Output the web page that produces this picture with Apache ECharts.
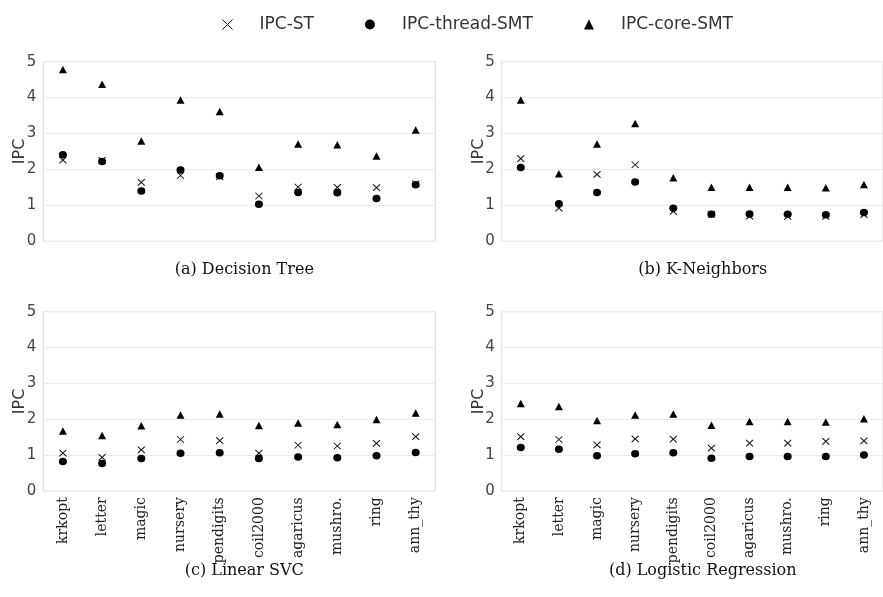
<!DOCTYPE html>
<html>
<head>
<meta charset="utf-8">
<script src="https://cdn.jsdelivr.net/npm/echarts@6/dist/echarts.min.js"></script>
<style>
  html, body { margin: 0; padding: 0; background: #fff; }
  #chart { width: 883px; height: 597px; }
</style>
</head>
<body>
<div id="chart"></div>
<script>
// Datasets on the x axis (shared by all four panels)
const categories = ['krkopt', 'letter', 'magic', 'nursery', 'pendigits', 'coil2000', 'agaricus', 'mushro.', 'ring', 'ann_thy'];
const seriesNames = ['IPC-ST', 'IPC-thread-SMT', 'IPC-core-SMT'];
const panelTitles = ['(a) Decision Tree', '(b) K-Neighbors', '(c) Linear SVC', '(d) Logistic Regression'];

// (a) Decision Tree
const dtST     = [2.26, 2.25, 1.64, 1.83, 1.80, 1.26, 1.51, 1.50, 1.49, 1.60];
const dtThread = [2.41, 2.22, 1.40, 1.98, 1.82, 1.03, 1.36, 1.35, 1.19, 1.57];
const dtCore   = [4.78, 4.37, 2.79, 3.93, 3.61, 2.06, 2.71, 2.69, 2.37, 3.10];

// (b) K-Neighbors
const knST     = [2.30, 0.92, 1.86, 2.13, 0.83, 0.75, 0.70, 0.69, 0.69, 0.74];
const knThread = [2.05, 1.04, 1.36, 1.65, 0.92, 0.75, 0.76, 0.75, 0.74, 0.80];
const knCore   = [3.93, 1.88, 2.71, 3.28, 1.77, 1.50, 1.50, 1.50, 1.49, 1.58];

// (c) Linear SVC
const svcST     = [1.06, 0.94, 1.15, 1.44, 1.41, 1.06, 1.28, 1.26, 1.33, 1.52];
const svcThread = [0.83, 0.77, 0.91, 1.06, 1.07, 0.91, 0.95, 0.93, 0.99, 1.08];
const svcCore   = [1.68, 1.55, 1.82, 2.12, 2.15, 1.83, 1.90, 1.86, 2.00, 2.18];

// (d) Logistic Regression
const lrST     = [1.52, 1.44, 1.29, 1.46, 1.45, 1.20, 1.34, 1.34, 1.39, 1.40];
const lrThread = [1.22, 1.17, 0.99, 1.04, 1.07, 0.92, 0.97, 0.97, 0.97, 1.01];
const lrCore   = [2.44, 2.36, 1.97, 2.12, 2.15, 1.84, 1.94, 1.94, 1.93, 2.02];

const panels = [
  [dtST, dtThread, dtCore],
  [knST, knThread, knCore],
  [svcST, svcThread, svcCore],
  [lrST, lrThread, lrCore]
];

// Panel geometry
const gridW = 392, gridH = 179.5;
const gridPos = [
  { left: 43.3,  top: 61.7 },
  { left: 501.7, top: 61.7 },
  { left: 43.3,  top: 311.7 },
  { left: 501.7, top: 311.7 }
];

const crossPath = 'path://M0,0L10,10M10,0L0,10';
const markerStyles = [
  { symbol: crossPath, symbolSize: [7, 6.5], itemStyle: { color: 'none', borderColor: '#111', borderWidth: 1, opacity: 1 } },
  { symbol: 'circle', symbolSize: [8, 7.5], itemStyle: { color: '#000', opacity: 1 } },
  { symbol: 'triangle', symbolSize: [8, 7.5], itemStyle: { color: '#000', opacity: 1 } }
];

const serifFont = 'DejaVu Serif';
const sansFont = 'DejaVu Sans';

const grids = [], xAxes = [], yAxes = [], series = [], titles = [];

gridPos.forEach((p, i) => {
  grids.push({
    left: p.left, top: p.top, width: gridW, height: gridH,
    show: true, borderColor: '#dadada', borderWidth: 1, backgroundColor: 'transparent',
    containLabel: false
  });
  xAxes.push({
    type: 'category', gridIndex: i, data: categories, boundaryGap: true,
    axisLine: { show: false }, axisTick: { show: false },
    axisLabel: {
      show: i >= 2, rotate: 90, margin: 6, interval: 0,
      fontFamily: serifFont, fontSize: 14, color: '#222'
    },
    splitLine: { show: false }
  });
  yAxes.push({
    type: 'value', gridIndex: i, min: 0, max: 5, interval: 1,
    name: 'IPC', nameLocation: 'middle', nameRotate: 90, nameGap: 15,
    nameMoveOverlap: false,
    nameTextStyle: { fontFamily: sansFont, fontSize: 16, color: '#333' },
    axisLine: { show: false }, axisTick: { show: false },
    axisLabel: { margin: 7, fontFamily: sansFont, fontSize: 15, color: '#444' },
    splitLine: { show: true, lineStyle: { color: '#ebebeb', width: 1 } }
  });
  panels[i].forEach((values, k) => {
    series.push(Object.assign({
      name: seriesNames[k], type: 'scatter', xAxisIndex: i, yAxisIndex: i,
      data: values, z: 2 + k, animation: false
    }, markerStyles[k]));
  });
  titles.push({
    text: panelTitles[i],
    left: p.left + gridW / 2, textAlign: 'center',
    top: i < 2 ? 257 : 558,
    textStyle: { fontFamily: serifFont, fontSize: 16, fontWeight: 'normal', color: '#111' }
  });
});

const chart = echarts.init(document.getElementById('chart'), null, { renderer: 'canvas' });
chart.setOption({
  animation: false,
  backgroundColor: '#fff',
  title: titles,
  legend: {
    left: 215, top: 11,
    itemWidth: 10, itemHeight: 10, itemGap: 51,
    textStyle: { fontFamily: sansFont, fontSize: 17, color: '#333', padding: [0, 0, 0, 22] },
    data: [
      { name: 'IPC-ST', icon: crossPath, itemStyle: { color: 'none', borderColor: '#111', borderWidth: 1 } },
      { name: 'IPC-thread-SMT', icon: 'circle', itemStyle: { color: '#000' } },
      { name: 'IPC-core-SMT', icon: 'triangle', itemStyle: { color: '#000' } }
    ]
  },
  grid: grids,
  xAxis: xAxes,
  yAxis: yAxes,
  series: series
});
</script>
</body>
</html>
